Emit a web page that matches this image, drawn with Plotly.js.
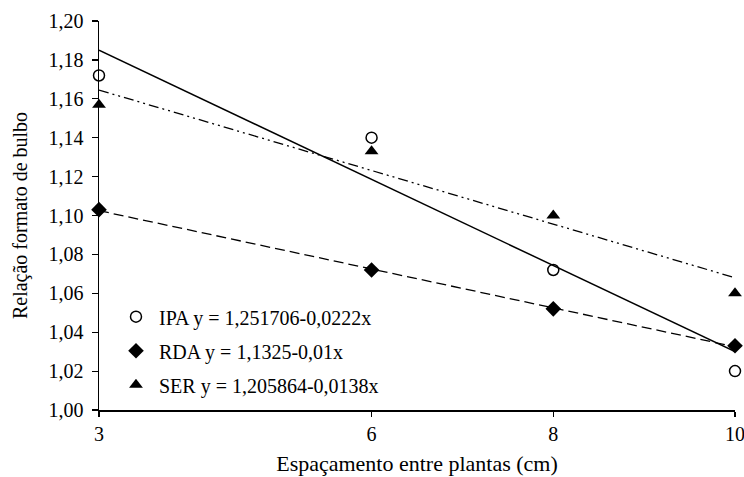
<!DOCTYPE html>
<html>
<head>
<meta charset="utf-8">
<script src="https://cdn.plot.ly/plotly-3.0.1.min.js"></script>
<style>
html,body{margin:0;padding:0;background:#fff;}
#chart{width:744px;height:477px;}
</style>
</head>
<body>
<div id="chart"></div>
<script>
// Data
const spacing = [3, 6, 8, 10];
const ipa = [1.172, 1.140, 1.072, 1.020];
const rda = [1.103, 1.072, 1.052, 1.033];
const ser = [1.157, 1.133, 1.100, 1.060];

// Fitted line end points (x = 3 and x = 10)
const fitX = [3, 10];
const ipaFit = [1.185, 1.030];
const rdaFit = [1.1025, 1.0325];
const serFit = [1.1645, 1.068];

const labels = [
  'IPA y = 1,251706-0,0222x',
  'RDA y = 1,1325-0,01x',
  'SER y = 1,205864-0,0138x'
];

const yTicks = [1.00, 1.02, 1.04, 1.06, 1.08, 1.10, 1.12, 1.14, 1.16, 1.18, 1.20];

const FONT = 'Liberation Serif, Times New Roman, serif';

const traces = [
  {x: fitX, y: ipaFit, mode: 'lines', line: {color: '#000', width: 1.5}, showlegend: false, hoverinfo: 'skip'},
  {x: fitX, y: rdaFit, mode: 'lines', line: {color: '#000', width: 1.3, dash: '10px,5px'}, showlegend: false, hoverinfo: 'skip'},
  {x: fitX, y: serFit, mode: 'lines', line: {color: '#000', width: 1.3, dash: '10px,4px,2px,4px,2px,4px'}, showlegend: false, hoverinfo: 'skip'},
  {x: spacing, y: ipa, name: labels[0], legendgroup: 'a', mode: 'markers', cliponaxis: false,
   marker: {symbol: 'circle-open', size: 11, color: '#000', line: {color: '#000', width: 1.5}}},
  {x: spacing, y: rda, name: labels[1], legendgroup: 'b', mode: 'markers', cliponaxis: false,
   marker: {symbol: 'diamond', size: 12, color: '#000'}},
  {x: spacing, y: ser, name: labels[2], legendgroup: 'c', mode: 'markers', cliponaxis: false,
   marker: {symbol: 'triangle-up', size: 12, color: '#000'}}
];

const layout = {
  width: 744, height: 477,
  margin: {l: 99, r: 9, t: 21, b: 67},
  paper_bgcolor: '#fff', plot_bgcolor: '#fff',
  separators: ', ',
  font: {family: FONT, size: 20, color: '#000'},
  showlegend: true,
  legend: {
    x: 0.022, y: 0.29, xanchor: 'left', yanchor: 'top',
    bgcolor: 'rgba(0,0,0,0)', font: {family: FONT, size: 20, color: '#000'},
    tracegroupgap: 5, itemwidth: 36
  },
  xaxis: {
    range: [3, 10], tickvals: spacing, ticktext: spacing.map(String),
    ticklabeloverflow: 'allow',
    showgrid: false, zeroline: false, showline: true, linecolor: '#000', linewidth: 1.5,
    ticks: 'outside', ticklen: 5, tickwidth: 1.2, tickcolor: '#000',
    tickfont: {family: FONT, size: 20, color: '#000'},
    title: {text: 'Espaçamento entre plantas (cm)', font: {family: FONT, size: 22, color: '#000'}, standoff: 12}
  },
  yaxis: {
    range: [1.0, 1.2], tickvals: yTicks, tickformat: '.2f',
    showgrid: false, zeroline: false, showline: true, linecolor: '#000', linewidth: 1.5,
    ticks: 'outside', ticklen: 6, tickwidth: 1.2, tickcolor: '#000', ticklabelstandoff: 4,
    tickfont: {family: FONT, size: 20, color: '#000'},
    title: {text: 'Relação formato de bulbo', font: {family: FONT, size: 20, color: '#000'}, standoff: 15}
  }
};

Plotly.newPlot('chart', traces, layout, {displayModeBar: false, staticPlot: true});
</script>
</body>
</html>
